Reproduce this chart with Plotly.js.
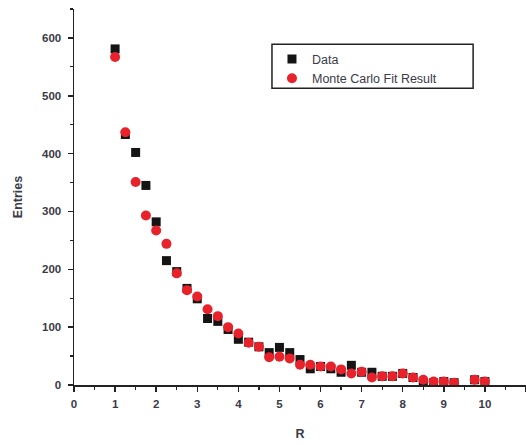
<!DOCTYPE html>
<html>
<head>
<meta charset="utf-8">
<script src="https://cdn.plot.ly/plotly-3.0.1.min.js"></script>
<style>html,body{margin:0;padding:0;background:#fff;}#chart{width:526px;height:445px;}</style>
</head>
<body>
<div id="chart"></div>
<script>
var rValues = [1, 1.25, 1.5, 1.75, 2, 2.25, 2.5, 2.75, 3, 3.25, 3.5, 3.75, 4, 4.25, 4.5, 4.75, 5, 5.25, 5.5, 5.75, 6, 6.25, 6.5, 6.75, 7, 7.25, 7.5, 7.75, 8, 8.25, 8.5, 8.75, 9, 9.25, 9.75, 10];
var dataEntries = [581, 433, 402, 345, 282, 215, 196, 167, 149, 115, 110, 96, 79, 74, 66, 56, 65, 56, 44, 28, 32, 28, 22, 34, 22, 22, 15, 15, 20, 13, 4, 4, 6, 4, 9, 6];
var mcEntries = [567, 437, 351, 293, 267, 244, 193, 164, 153, 131, 119, 100, 89, 73, 66, 48, 49, 46, 35, 35, 32, 32, 27, 20, 23, 13, 15, 15, 20, 13, 9, 6, 6, 4, 9, 6];
var seriesNames = ['Data', 'Monte Carlo Fit Result'];
var xTickVals = [0,1,2,3,4,5,6,7,8,9,10,11];
var yTickVals = [0,100,200,300,400,500,600];

var tickFont = {family: 'Liberation Sans, Arial, sans-serif', size: 11.5, color: '#3a3a48', weight: 'bold'};
var traces = [
  {x: rValues, y: dataEntries, name: seriesNames[0], type: 'scatter', mode: 'markers',
   marker: {symbol: 'square', size: 9, color: '#141414'}},
  {x: rValues, y: mcEntries, name: seriesNames[1], type: 'scatter', mode: 'markers',
   marker: {symbol: 'circle', size: 10, color: '#e8222b'}}
];
var layout = {
  width: 526, height: 445,
  margin: {l: 74, r: 0, t: 9, b: 60},
  paper_bgcolor: '#fff', plot_bgcolor: '#fff',
  showlegend: true,
  legend: {x: 0.438, y: 0.906, xanchor: 'left', yanchor: 'top',
    borderwidth: 0, bgcolor: 'rgba(0,0,0,0)',
    font: {family: 'Liberation Sans, Arial, sans-serif', size: 12.5, color: '#3a3a48'}},
  shapes: [{type: 'rect', xref: 'paper', yref: 'paper', x0: 0.438, x1: 0.883, y0: 0.789, y1: 0.906,
    line: {color: '#222', width: 1.5}, fillcolor: 'rgba(0,0,0,0)', layer: 'above'}],
  xaxis: {range: [0, 11], tickvals: xTickVals, ticktext: xTickVals.map(String),
    showgrid: false, zeroline: false, showline: true, linecolor: '#222', linewidth: 1.5,
    ticks: 'outside', ticklen: 5, tickwidth: 1.5, tickcolor: '#222', tickfont: tickFont, ticklabelstandoff: 3,
    minor: {tickvals: [0.5,1.5,2.5,3.5,4.5,5.5,6.5,7.5,8.5,9.5,10.5], ticks: 'outside', ticklen: 3, tickwidth: 1.2, tickcolor: '#222'},
    title: {text: 'R', font: {family: 'Liberation Sans, Arial, sans-serif', size: 12.5, color: '#3a3a48', weight: 'bold'}, standoff: 20}},
  yaxis: {range: [0, 650], tickvals: yTickVals, ticktext: yTickVals.map(String),
    showgrid: false, zeroline: false, showline: true, linecolor: '#222', linewidth: 1.5,
    ticks: 'outside', ticklen: 5, tickwidth: 1.5, tickcolor: '#222', tickfont: tickFont, ticklabelstandoff: 4,
    minor: {tickvals: [50,150,250,350,450,550,650], ticks: 'outside', ticklen: 3, tickwidth: 1.2, tickcolor: '#222'},
    title: {text: 'Entries', font: {family: 'Liberation Sans, Arial, sans-serif', size: 12.5, color: '#3a3a48', weight: 'bold'}, standoff: 16}}
};
Plotly.newPlot('chart', traces, layout, {displayModeBar: false, staticPlot: true});
</script>
</body>
</html>
